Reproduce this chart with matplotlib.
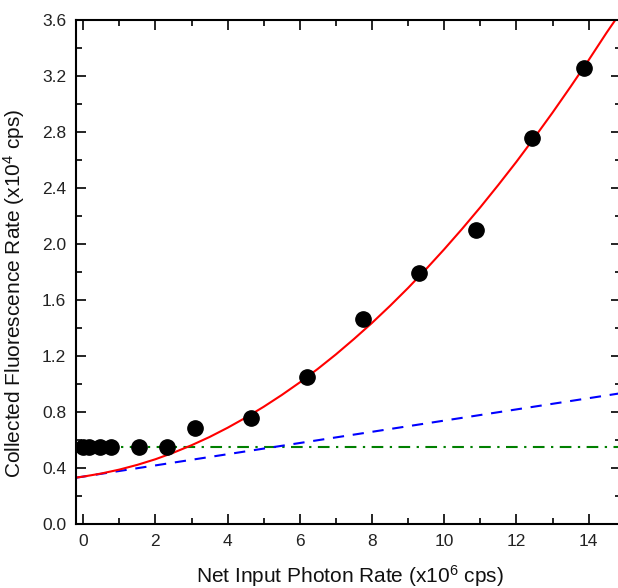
"""
Collected fluorescence vs net input photon rate, with fit curves
"""
import matplotlib
matplotlib.use('Agg')
import matplotlib.pyplot as plt
from matplotlib.ticker import MultipleLocator, FormatStrFormatter

plt.rcParams['font.family'] = ['Liberation Sans', 'DejaVu Sans']
plt.rcParams['mathtext.default'] = 'regular'

# measured points
photon_rate = [0.0, 0.15, 0.47, 0.78, 1.55, 2.33, 3.1, 4.65, 6.2, 7.75, 9.3, 10.88, 12.42, 13.86]
fluorescence = [0.552, 0.552, 0.552, 0.552, 0.552, 0.552, 0.686, 0.757, 1.05, 1.464, 1.79, 2.10, 2.757, 3.257]

# total fit (red)
fit_x = [-0.2, 0, 0.5, 1, 1.5, 2, 2.5, 3, 3.5, 4, 4.5, 5, 5.5, 6, 6.5, 7, 7.5,
         8, 8.5, 9, 9.5, 10, 10.5, 11, 11.5, 12, 12.5, 13, 13.5, 14, 14.5, 14.9]
fit_total = [0.331, 0.338, 0.360, 0.388, 0.422, 0.462, 0.509, 0.562, 0.621, 0.687,
             0.759, 0.837, 0.921, 1.011, 1.108, 1.211, 1.321, 1.436, 1.558, 1.686,
             1.821, 1.962, 2.109, 2.262, 2.422, 2.587, 2.760, 2.938, 3.123, 3.313,
             3.510, 3.66]

# linear component (blue dashed)
lin_x = [-0.2, 14.9]
lin_y = [0.330, 0.934]

# background level (green dash-dot)
bg_x = [-0.2, 14.9]
bg_y = [0.552, 0.552]

fig = plt.figure(figsize=(6.18, 5.88), dpi=100)
ax = fig.add_axes([0.123, 0.109, 0.882, 0.857])

ax.plot(bg_x, bg_y, color='#008000', linestyle=(0, (5.6, 3.1, 1.1, 3.1)), linewidth=1.5)
ax.plot(lin_x, lin_y, color='#0000ff', linestyle=(0, (5.4, 4.2)), linewidth=1.5)
ax.plot(fit_x, fit_total, color='#ff0000', linewidth=1.5)
ax.plot(photon_rate, fluorescence, 'o', color='black', markersize=11, zorder=5)

ax.set_xlim(-0.2, 14.9)
ax.set_ylim(0.0, 3.6)
ax.xaxis.set_major_locator(MultipleLocator(2))
ax.xaxis.set_minor_locator(MultipleLocator(1))
ax.yaxis.set_major_locator(MultipleLocator(0.4))
ax.yaxis.set_minor_locator(MultipleLocator(0.2))
ax.yaxis.set_major_formatter(FormatStrFormatter('%.1f'))

ax.tick_params(which='both', direction='in', top=True, right=True, labelsize=12.5,
               width=1.2, labelcolor='#222222')
ax.tick_params(which='major', length=7, pad=7)
ax.tick_params(which='minor', length=4)
for s in ax.spines.values():
    s.set_linewidth(1.5)

ax.set_xlabel('Net Input Photon Rate (x10$^{6}$ cps)', fontsize=15, color='#111111')
ax.set_ylabel('Collected Fluorescence Rate (x10$^{4}$ cps)', fontsize=15, color='#111111')
ax.xaxis.set_label_coords(0.503, -0.077)
ax.yaxis.set_label_coords(-0.090, 0.458)

plt.savefig('out.png', dpi=100)
plt.close()
